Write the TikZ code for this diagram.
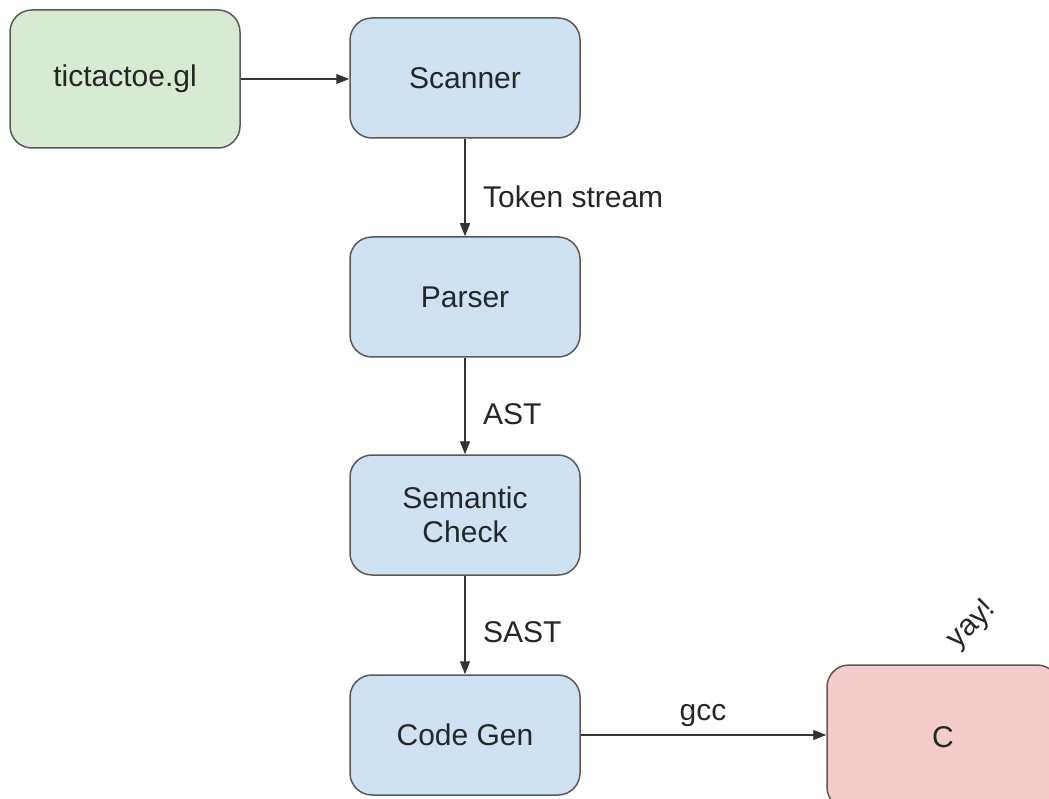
\documentclass[tikz,border=0pt]{standalone}
\usepackage{fontspec}
\setmainfont{Liberation Sans}
\usetikzlibrary{arrows.meta}
\definecolor{stepgreen}{HTML}{D9EAD3}
\definecolor{stepblue}{HTML}{CFE2F3}
\definecolor{stepred}{HTML}{F4CCCC}
\definecolor{edgegray}{HTML}{595959}
\begin{document}
\begin{tikzpicture}[x=1pt,y=-1pt,
  stagebox/.style={draw=edgegray, line width=1.5pt, rounded corners=22pt,
    minimum width=230pt, minimum height=120pt, inner sep=0pt,
    font=\fontsize{30}{36}\selectfont, align=center, text=black!85},
  flow/.style={draw=black!80, line width=1.3pt, -{Triangle[length=13pt,width=10pt]}},
  lbl/.style={font=\fontsize{30}{36}\selectfont, text=black!85, inner sep=0pt}]
  \useasboundingbox (0,0) rectangle (1049,799);
  \begin{scope}
    \clip (0,0) rectangle (1049,799);
    \node[stagebox, fill=stepgreen, minimum height=138pt] (src) at (125,79) {tictactoe.gl};
    \node[stagebox, fill=stepblue] (scan) at (465,78) {Scanner};
    \node[stagebox, fill=stepblue] (parse) at (465,297) {Parser};
    \node[stagebox, fill=stepblue] (sem) at (465,515) {Semantic\\[-2pt]Check};
    \node[stagebox, fill=stepblue] (gen) at (465,735) {Code Gen};
    \node[stagebox, fill=stepred, minimum width=232pt, minimum height=144pt] (out) at (943,737) {C};
  \end{scope}
  \draw[flow] (src.east) -- (scan.west |- src.east);
  \draw[flow] (scan) -- (parse);
  \draw[flow] (parse) -- (sem);
  \draw[flow] (sem) -- (gen);
  \draw[flow] (gen.east) -- (out.west |- gen.east);
  \node[lbl, anchor=west] (l1) at (483,197) {Token stream};
  \node[lbl, anchor=west] (l2) at (483,414) {AST};
  \node[lbl, anchor=west] (l3) at (483,632) {SAST};
  \node[lbl] (l4) at (703,716) {gcc};
  \node[lbl, rotate=45] (l5) at (972,625) {yay!};
\end{tikzpicture}
\end{document}
